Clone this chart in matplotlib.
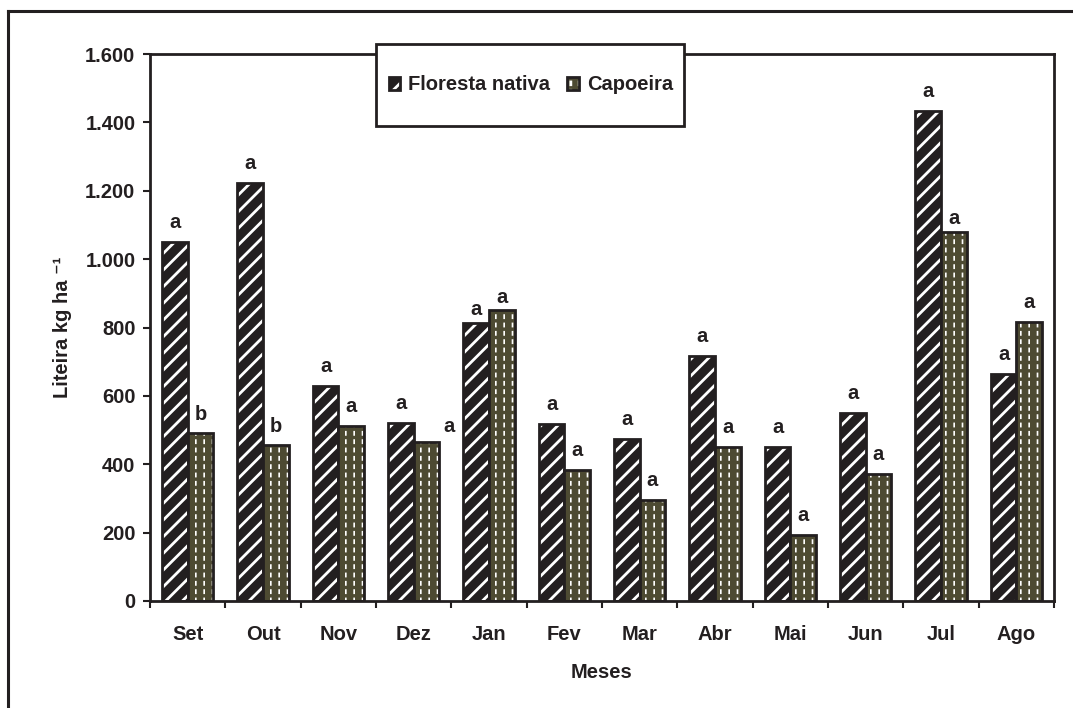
import matplotlib
matplotlib.use("Agg")
import matplotlib.pyplot as plt
import numpy as np
from matplotlib.lines import Line2D
from matplotlib.patches import Rectangle
from matplotlib.legend_handler import HandlerTuple

plt.rcParams['font.family'] = ['Liberation Sans', 'DejaVu Sans']
plt.rcParams['font.weight'] = 'bold'
plt.rcParams['hatch.linewidth'] = 2.0

# dados
meses = ['Set', 'Out', 'Nov', 'Dez', 'Jan', 'Fev', 'Mar', 'Abr', 'Mai', 'Jun', 'Jul', 'Ago']
floresta = [1050, 1223, 629, 521, 812, 517, 473, 716, 451, 551, 1434, 665]
capoeira = [490, 455, 512, 466, 851, 383, 296, 451, 194, 372, 1078, 817]
letras_floresta = ['a', 'a', 'a', 'a', 'a', 'a', 'a', 'a', 'a', 'a', 'a', 'a']
letras_capoeira = ['b', 'b', 'a', 'a', 'a', 'a', 'a', 'a', 'a', 'a', 'a', 'a']

preto = '#231f20'
oliva = '#4d4a32'

fig = plt.figure(figsize=(10.73, 7.08), dpi=100)
ax = fig.add_axes([150 / 1073, 1 - 601 / 708, 904 / 1073, 547 / 708])

x = np.arange(len(meses))
w = 0.34

def lw_hachura(cont, lw):
    for p in cont:
        if hasattr(p, 'set_hatch_linewidth'):
            p.set_hatch_linewidth(lw)

def barras(pos, vals, cor, hatch, lw_h, quebra=None):
    base = ax.bar(pos, vals, w, color=cor, linewidth=0)
    hach = ax.bar(pos, vals, w, color='none', edgecolor='white', hatch=hatch, linewidth=0)
    lw_hachura(hach, lw_h)
    partes = [base, hach]
    if quebra:
        brk = ax.bar(pos, vals, w, color='none', edgecolor=cor, hatch=quebra, linewidth=0)
        lw_hachura(brk, 2.5)
        partes.append(brk)
    borda = ax.bar(pos, vals, w, color='none', edgecolor=preto, linewidth=2)
    partes.append(borda)
    return tuple(partes)

h_flo = barras(x - w / 2, floresta, preto, '//', 2.0)
h_cap = barras(x + w / 2, capoeira, oliva, '||', 1.2, quebra='--')

# letras de significância (alguns deslocamentos como no original)
desloc_flo = {'Jan': (0, 10)}
desloc_cap = {'Dez': (16, 11), 'Jan': (0, 9), 'Jul': (0, 10)}
for i in range(len(meses)):
    ax.annotate(letras_floresta[i], (x[i] - w / 2, floresta[i]),
                xytext=desloc_flo.get(meses[i], (0, 14)),
                textcoords='offset points', ha='center', va='center',
                fontsize=14.5, fontweight='bold', color=preto)
    ax.annotate(letras_capoeira[i], (x[i] + w / 2, capoeira[i]),
                xytext=desloc_cap.get(meses[i], (0, 14)),
                textcoords='offset points', ha='center', va='center',
                fontsize=14.5, fontweight='bold', color=preto)

ax.set_xlim(-0.5, len(meses) - 0.5)
ax.set_ylim(0, 1600)
ax.set_xticks(x)
ax.set_xticklabels(meses)
ax.set_xticks(np.arange(len(meses) + 1) - 0.5, minor=True)
ax.tick_params(axis='x', which='major', length=0, pad=17, labelsize=14.5, labelcolor=preto)
ax.tick_params(axis='x', which='minor', length=5, width=1.5, direction='out', color=preto)

yt = np.arange(0, 1601, 200)
ax.set_yticks(yt)
ax.set_yticklabels([f'{v:,.0f}'.replace(',', '.') for v in yt])
ax.tick_params(axis='y', length=5, width=1.5, direction='out', pad=5.5,
               labelsize=14.5, labelcolor=preto, color=preto)

for s in ax.spines.values():
    s.set_linewidth(2)
    s.set_color(preto)

ax.text((63 - 150) / 904, 0.5, 'Liteira kg ha \u207b\u00b9', transform=ax.transAxes,
        rotation=90, ha='center', va='center', fontsize=14.5, fontweight='bold', color=preto)
ax.text(0.5, (601 - 673) / 547, 'Meses', transform=ax.transAxes, ha='center', va='center',
        fontsize=14.5, fontweight='bold', color=preto)

# legenda com moldura própria
leg = fig.legend([h_flo, h_cap], ['Floresta nativa', 'Capoeira'],
                 handler_map={tuple: HandlerTuple(ndivide=1)},
                 loc='center', bbox_to_anchor=(531 / 1073, 1 - 85 / 708), ncol=2,
                 frameon=False, fontsize=14.5, handlelength=0.55, handleheight=0.6,
                 handletextpad=0.4, columnspacing=0.85)
for t in leg.get_texts():
    t.set_color(preto)
fig.add_artist(Rectangle((376 / 1073, 1 - 126 / 708), 308 / 1073, 82 / 708,
                         transform=fig.transFigure, fill=True, facecolor='white',
                         edgecolor=preto, linewidth=2, zorder=2))
leg.set_zorder(3)

# moldura externa
fig.add_artist(Line2D([8 / 1073, 8 / 1073], [0, 1 - 11 / 708], color=preto, linewidth=2.2,
                      transform=fig.transFigure))
fig.add_artist(Line2D([8 / 1073, 1], [1 - 11 / 708, 1 - 11 / 708], color=preto, linewidth=2.2,
                      transform=fig.transFigure))

fig.savefig('out.png', dpi=100)
